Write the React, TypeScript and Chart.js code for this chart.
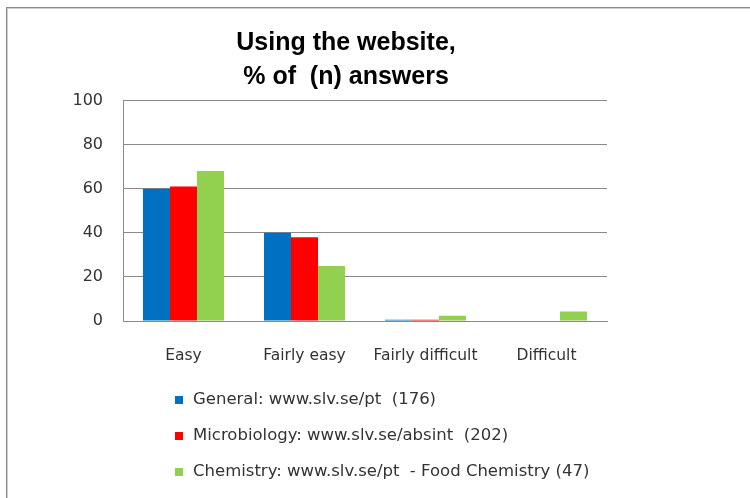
import React, { useEffect, useRef } from "react";
import { Chart, registerables } from "chart.js";

Chart.register(...registerables);

const titleLines = ["Using the website,", "% of  (n) answers"];
const categories = ["Easy", "Fairly easy", "Fairly difficult", "Difficult"];
const seriesNames = [
  "General: www.slv.se/pt  (176)",
  "Microbiology: www.slv.se/absint  (202)",
  "Chemistry: www.slv.se/pt  - Food Chemistry (47)",
];
const generalValues = [60, 40, 0.6, 0];
const microValues = [61, 38, 0.6, 0];
const chemValues = [68, 25, 2.4, 4.3];
const seriesColors = ["#0070C0", "#FF0000", "#92D050"];
const yTicks = [0, 20, 40, 60, 80, 100];

const frameAndLegend = {
  id: "frameAndLegend",
  beforeDraw(chart: any) {
    const ctx = chart.ctx;
    ctx.save();
    ctx.fillStyle = "#ffffff";
    ctx.fillRect(0, 0, chart.width, chart.height);
    ctx.strokeStyle = "#8a8a8a";
    ctx.lineWidth = 1;
    ctx.beginPath();
    ctx.moveTo(6, 7.5);
    ctx.lineTo(chart.width, 7.5);
    ctx.moveTo(6.5, 7);
    ctx.lineTo(6.5, chart.height);
    ctx.stroke();
    ctx.strokeStyle = "#d0d0d0";
    ctx.beginPath();
    ctx.moveTo(8, 8.5);
    ctx.lineTo(chart.width, 8.5);
    ctx.moveTo(7.5, 8);
    ctx.lineTo(7.5, chart.height);
    ctx.stroke();
    ctx.restore();
  },
  afterDraw(chart: any) {
    const ctx = chart.ctx;
    const area = chart.chartArea;
    ctx.save();
    ctx.font = "16.5px 'DejaVu Sans'";
    ctx.textBaseline = "middle";
    ctx.textAlign = "left";
    chart.data.datasets.forEach((ds: any, i: number) => {
      const cy = area.bottom + 79 + i * 36;
      const bx = area.left + 52;
      ctx.fillStyle = ds.backgroundColor;
      ctx.fillRect(bx, cy - 4, 8, 8);
      ctx.fillStyle = "#333333";
      ctx.fillText(ds.label, bx + 18, cy);
    });
    ctx.restore();
  },
};

export default function App() {
  const ref = useRef<HTMLCanvasElement>(null);
  useEffect(() => {
    if (!ref.current) return;
    const chart = new Chart(ref.current, {
      type: "bar",
      data: {
        labels: categories,
        datasets: [generalValues, microValues, chemValues].map((vals, i) => ({
          label: seriesNames[i],
          data: vals,
          backgroundColor: seriesColors[i],
          borderWidth: 0,
          categoryPercentage: 0.67,
          barPercentage: 1.0,
          yAxisID: "y",
        })),
      },
      options: {
        responsive: false,
        animation: false,
        layout: { padding: { left: 67, right: 125, top: 0, bottom: 117 } },
        plugins: {
          legend: { display: false },
          tooltip: { enabled: false },
          title: {
            display: true,
            text: titleLines,
            color: "#000000",
            font: { family: "'Liberation Sans', Arial, sans-serif", size: 25, weight: "bold", lineHeight: 1.35 },
            padding: { top: 26, bottom: 7 },
          },
        },
        scales: {
          x: {
            grid: { display: false, drawTicks: false },
            border: { display: true, color: "#8a8a8a", width: 1 },
            ticks: {
              color: "#333333",
              font: { family: "'DejaVu Sans'", size: 15.5 },
              padding: 26,
              maxRotation: 0,
            },
            afterFit: (scale: any) => {
              scale.height = 60;
            },
          },
          y: {
            min: 0,
            max: 100,
            afterBuildTicks: (scale: any) => {
              scale.ticks = yTicks.map((v) => ({ value: v }));
            },
            grid: { color: "#8a8a8a", drawTicks: false, lineWidth: 1 },
            border: { display: true, color: "#8a8a8a", width: 1 },
            ticks: {
              color: "#333333",
              font: { family: "'DejaVu Sans'", size: 16 },
              padding: 20,
            },
            afterFit: (scale: any) => {
              scale.width = 56;
            },
          },
          yRight: {
            position: "right",
            min: 0,
            max: 100,
            grid: { display: false, drawTicks: false },
            border: { display: false },
            ticks: { display: false },
            afterFit: (scale: any) => {
              scale.width = 18;
            },
          },
        },
      },
      plugins: [frameAndLegend],
    });
    return () => chart.destroy();
  }, []);
  return (
    <div style={{ position: "absolute", left: 0, top: 0, width: 750, height: 498, background: "#fff" }}>
      <canvas ref={ref} width={750} height={498} style={{ display: "block" }} />
    </div>
  );
}
